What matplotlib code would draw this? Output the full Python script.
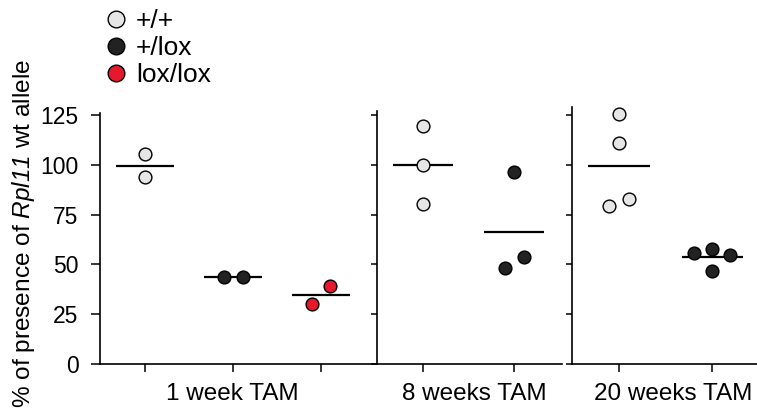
import matplotlib
matplotlib.use("Agg")
import matplotlib.pyplot as plt
from matplotlib.lines import Line2D
import numpy as np

plt.rcParams['font.family'] = ['Liberation Sans', 'DejaVu Sans']
plt.rcParams['mathtext.fontset'] = 'custom'
plt.rcParams['mathtext.rm'] = 'Liberation Sans:italic'
plt.rcParams['mathtext.it'] = 'Liberation Sans:italic'

# ---- data ----
genotypes = ["+/+", "+/lox", "lox/lox"]
genotype_colors = {"+/+": "#e6e6e6", "+/lox": "#222222", "lox/lox": "#e8182c"}
panel_titles = ["1 week TAM", "8 weeks TAM", "20 weeks TAM"]

# panel 1: 1 week TAM
w1_groups = ["+/+", "+/lox", "lox/lox"]
w1_values = [[105.4, 93.7], [43.5, 43.8], [30.0, 39.2]]
w1_jitter = [[0.0, 0.0], [-0.1, 0.11], [-0.11, 0.1]]

# panel 2: 8 weeks TAM
w8_groups = ["+/+", "+/lox"]
w8_values = [[119.5, 99.9, 80.3], [96.2, 48.0, 53.9]]
w8_jitter = [[0.0, 0.0, 0.0], [0.0, -0.1, 0.11]]

# panel 3: 20 weeks TAM
w20_groups = ["+/+", "+/lox"]
w20_values = [[125.3, 110.7, 79.5, 82.7], [55.6, 57.9, 54.5, 46.7]]
w20_jitter = [[0.0, 0.0, -0.11, 0.11], [-0.2, 0.0, 0.19, 0.0]]

y_ticks = [0, 25, 50, 75, 100, 125]

W, H = 757, 415
fig = plt.figure(figsize=(W / 100, H / 100), dpi=100)

def px_axes(left, right, top, bottom):
    return fig.add_axes([left / W, 1 - bottom / H, (right - left) / W, (bottom - top) / H])

ppu = 1.992  # pixels per y unit
y0 = 364
axes_specs = [
    (100, 376, 126, (-0.51, 2.62), w1_groups, w1_values, w1_jitter, 6.5, True),
    (377, 562, 127, (-0.505, 1.53), w8_groups, w8_values, w8_jitter, 4.5, False),
    (572, 757, 129, (-0.505, 1.48), w20_groups, w20_values, w20_jitter, 4.5, False),
]

for (left, right, ytop, xl, groups, values, jit, ytl, show_labels) in axes_specs:
    ax = px_axes(left, right, y0 - ytop * ppu, y0)
    ax.set_xlim(*xl)
    ax.set_ylim(0, ytop)
    for i, (g, vals, jj) in enumerate(zip(groups, values, jit)):
        xs = np.array(jj) + i
        ax.plot(xs, vals, linestyle='none', marker='o', markersize=9.2,
                markerfacecolor=genotype_colors[g], markeredgecolor='black',
                markeredgewidth=1.0, zorder=3)
        m = np.mean(vals)
        ax.plot([i - 0.33, i + 0.33], [m, m], color='black', lw=1.6, zorder=2,
                solid_capstyle='butt')
    ax.set_xticks(range(len(groups)))
    ax.set_xticklabels([])
    ax.set_yticks(y_ticks)
    if show_labels:
        ax.set_yticklabels([str(t) for t in y_ticks], fontsize=16.5)
    else:
        ax.set_yticklabels([])
    ax.tick_params(axis='y', direction='out', length=ytl, width=1.1, pad=9)
    ax.tick_params(axis='x', direction='out', length=6, width=1.1)
    for s in ['top', 'right']:
        ax.spines[s].set_visible(False)
    for s in ['left', 'bottom']:
        ax.spines[s].set_linewidth(1.2)
    ax.patch.set_alpha(0)

# category labels
for txt, xc in zip(panel_titles, [232, 474, 673]):
    fig.text(xc / W, 1 - 394 / H, txt, ha='center', va='center', fontsize=17.5)

# y label
fig.text(24 / W, 1 - 233 / H, r"% of presence of $\mathrm{Rpl11}$ wt allele",
         rotation=90, ha='center', va='center', fontsize=17.6)

# legend
handles = [Line2D([], [], linestyle='none', marker='o', markersize=12,
                  markerfacecolor=genotype_colors[g], markeredgecolor='black',
                  markeredgewidth=1.0) for g in genotypes]
fig.legend(handles, genotypes, loc='upper left', bbox_to_anchor=(103 / W, 1 - 9 / H),
           frameon=False, fontsize=19, handlelength=0.95, handletextpad=0.3,
           labelspacing=0.12, borderpad=0, borderaxespad=0)

fig.savefig("out.png", dpi=100)
